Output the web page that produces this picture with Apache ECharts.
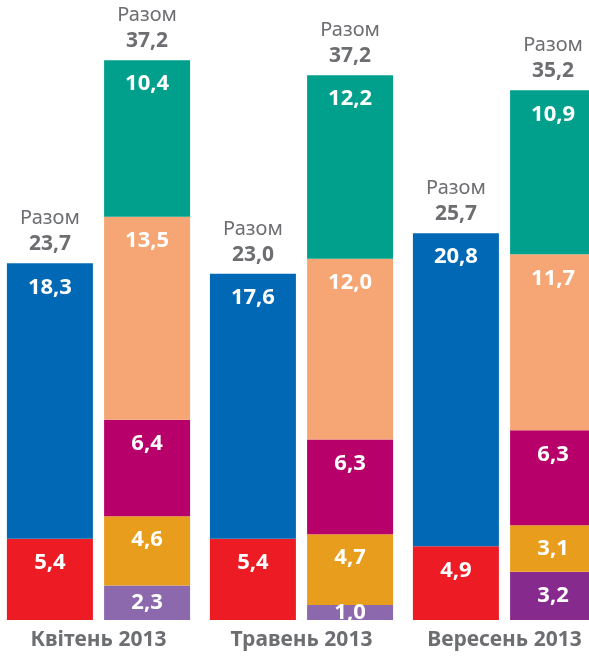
<!DOCTYPE html>
<html>
<head>
<meta charset="utf-8">
<script src="https://cdn.jsdelivr.net/npm/echarts@6/dist/echarts.min.js"></script>
<style>
  html, body { margin: 0; padding: 0; background: #fff; }
  #chart { width: 589px; height: 657px; }
</style>
</head>
<body>
<div id="chart"></div>
<script>
// months
const months = ['Квітень 2013', 'Травень 2013', 'Вересень 2013'];
// left stack
const red = [5.4, 5.4, 4.9];
const blue = [18.3, 17.6, 20.8];
const totalLeft = [23.7, 23.0, 25.7];
// right stack
const purple = [2.3, 1.0, 3.2];
const orange = [4.6, 4.7, 3.1];
const magenta = [6.4, 6.3, 6.3];
const peach = [13.5, 12.0, 11.7];
const teal = [10.4, 12.2, 10.9];
const totalRight = [37.2, 37.2, 35.2];

const purpleShades = ['#8c68ad', '#8c68ad', '#862a8e'];
const FONT = '"Noto Sans", sans-serif';

function fmt(v) { return v.toFixed(1).replace('.', ','); }

function seg(name, stack, data, color) {
  return {
    name: name, type: 'bar', stack: stack, data: data,
    barWidth: 86, barGap: '13%',
    itemStyle: { color: color },
    label: {
      show: true,
      position: 'insideTop',
      distance: 13,
      color: '#fff',
      fontFamily: FONT,
      fontWeight: 'bold',
      fontSize: 22,
      formatter: p => fmt(typeof p.value === 'number' ? p.value : p.data.value)
    }
  };
}

// smaller pieces get a centred label
function withSmallLabels(s, arr) {
  s.data = arr.map((v, i) => {
    const d = { value: v };
    if (v < 3.5) d.label = { position: 'inside' };
    return d;
  });
  return s;
}

function totalSeries(stack, totals) {
  return {
    type: 'bar', stack: stack, data: totals.map(() => 0),
    barWidth: 86, barGap: '13%',
    silent: true,
    label: {
      show: true, position: 'top', distance: 7,
      fontFamily: FONT,
      formatter: p => '{a|Разом}\n{b|' + fmt(totals[p.dataIndex]) + '}',
      rich: {
        a: { fontSize: 20, color: '#6d6e71', lineHeight: 28, fontFamily: FONT },
        b: { fontSize: 21, color: '#6d6e71', fontWeight: 'bold', lineHeight: 24, fontFamily: FONT }
      }
    }
  };
}

const chart = echarts.init(document.getElementById('chart'));

const purpleSeries = withSmallLabels(seg('purple', 'R', purple, '#8c68ad'), purple);
purpleSeries.data.forEach((d, i) => { d.itemStyle = { color: purpleShades[i] }; });

chart.setOption({
  animation: false,
  backgroundColor: '#fff',
  grid: { left: -3, width: 609, top: 18, bottom: 37, outerBoundsMode: 'none', containLabel: false },
  xAxis: {
    type: 'category',
    data: months,
    axisLine: { show: false },
    axisTick: { show: false },
    axisLabel: {
      margin: 10,
      color: '#6d6e71',
      fontFamily: FONT,
      fontWeight: 'bold',
      fontSize: 21
    }
  },
  yAxis: {
    type: 'value', min: 0, max: 40, show: false,
    splitLine: { show: false }
  },
  series: [
    withSmallLabels(seg('red', 'L', red, '#ed1c24'), red),
    seg('blue', 'L', blue, '#0068b4'),
    totalSeries('L', totalLeft),
    purpleSeries,
    withSmallLabels(seg('orange', 'R', orange, '#e89e1c'), orange),
    seg('magenta', 'R', magenta, '#b8006b'),
    seg('peach', 'R', peach, '#f5a674'),
    seg('teal', 'R', teal, '#00a08c'),
    totalSeries('R', totalRight)
  ]
});
</script>
</body>
</html>
